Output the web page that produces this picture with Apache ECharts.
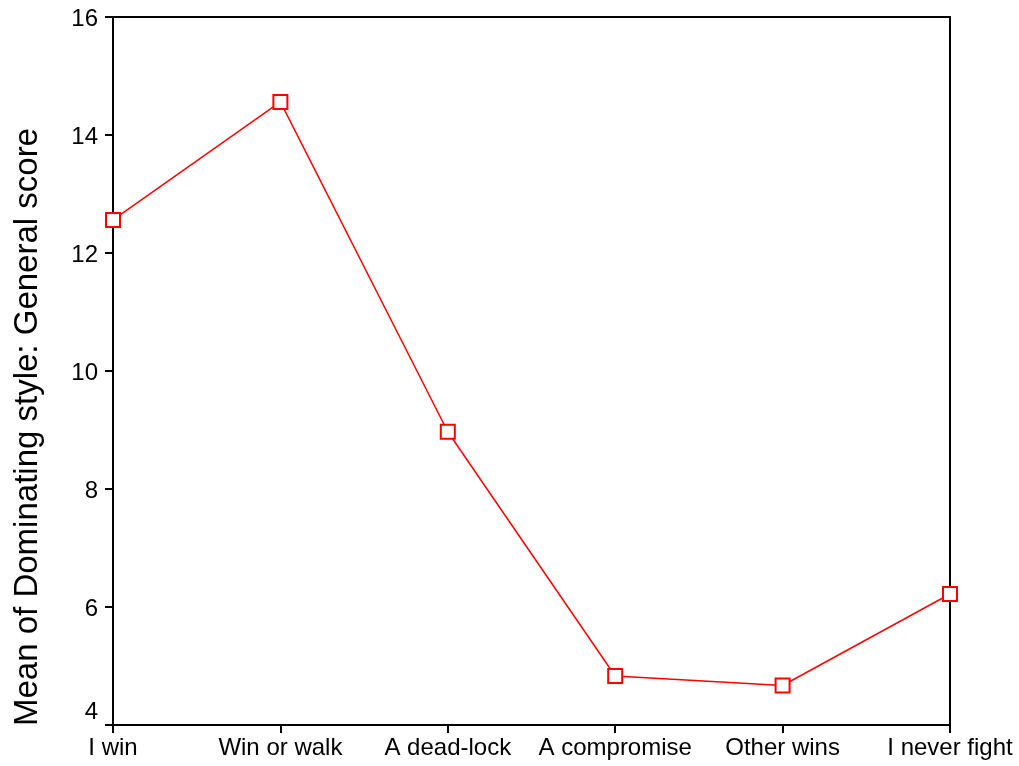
<!DOCTYPE html>
<html>
<head>
<meta charset="utf-8">
<script src="https://cdn.jsdelivr.net/npm/echarts@6/dist/echarts.min.js"></script>
<style>
html,body{margin:0;padding:0;background:#fff;}
#chart{width:1019px;height:766px;}
</style>
</head>
<body>
<div id="chart"></div>
<script>
const categories = ['I win', 'Win or walk', 'A dead-lock', 'A compromise', 'Other wins', 'I never fight'];
const meanValues = [12.56, 14.56, 8.97, 4.83, 4.67, 6.22];
const yTicks = [4, 6, 8, 10, 12, 14, 16];
const yTitle = 'Mean of Dominating style: General score';

const chart = echarts.init(document.getElementById('chart'), null, {renderer: 'canvas'});
const font = 'Liberation Sans, Arial, sans-serif';
chart.setOption({
  animation: false,
  backgroundColor: '#fff',
  grid: {left: 113, right: 69, top: 17, bottom: 41, show: false},
  xAxis: {
    type: 'category',
    data: categories,
    boundaryGap: false,
    axisLine: {show: true, onZero: false, lineStyle: {color: '#000', width: 2}},
    axisTick: {show: true, alignWithLabel: true, length: 8, lineStyle: {color: '#000', width: 2}},
    axisLabel: {color: '#000', fontSize: 24, fontFamily: font, margin: 11, interval: 0},
    splitLine: {show: false}
  },
  yAxis: [{
    type: 'value',
    min: yTicks[0],
    max: yTicks[yTicks.length - 1],
    interval: 2,
    axisLine: {show: true, onZero: false, lineStyle: {color: '#000', width: 2}},
    axisTick: {show: true, length: 8, lineStyle: {color: '#000', width: 2}},
    axisLabel: {
      color: '#000', fontSize: 24, fontFamily: font, margin: 15,
      formatter: v => v === yTicks[0] ? '{lo|' + v + '}' : '{n|' + v + '}',
      rich: {
        n: {fontSize: 24, fontFamily: font, color: '#000', padding: [5, 0, 0, 0]},
        lo: {fontSize: 24, fontFamily: font, color: '#000', padding: [0, 0, 26, 0]}
      }
    },
    splitLine: {show: false}
  }, {
    type: 'value',
    position: 'right',
    min: yTicks[0],
    max: yTicks[yTicks.length - 1],
    interval: 2,
    axisLine: {show: true, onZero: false, lineStyle: {color: '#000', width: 2}},
    axisTick: {show: false},
    axisLabel: {show: false},
    splitLine: {show: false}
  }],
  graphic: [{
    type: 'line',
    shape: {x1: 113, y1: 17, x2: 951, y2: 17},
    style: {stroke: '#000', lineWidth: 2}
  }, {
    type: 'text',
    x: 28,
    y: 427,
    rotation: Math.PI / 2,
    style: {
      text: yTitle,
      fontSize: 33,
      fontFamily: font,
      fill: '#000',
      align: 'center',
      verticalAlign: 'middle'
    }
  }],
  series: [{
    type: 'line',
    data: meanValues,
    symbol: 'rect',
    symbolSize: 14,
    showAllSymbol: true,
    lineStyle: {color: '#ff0000', width: 1.5},
    itemStyle: {color: '#fff', borderColor: '#ff0000', borderWidth: 2},
    z: 3
  }]
});
</script>
</body>
</html>
